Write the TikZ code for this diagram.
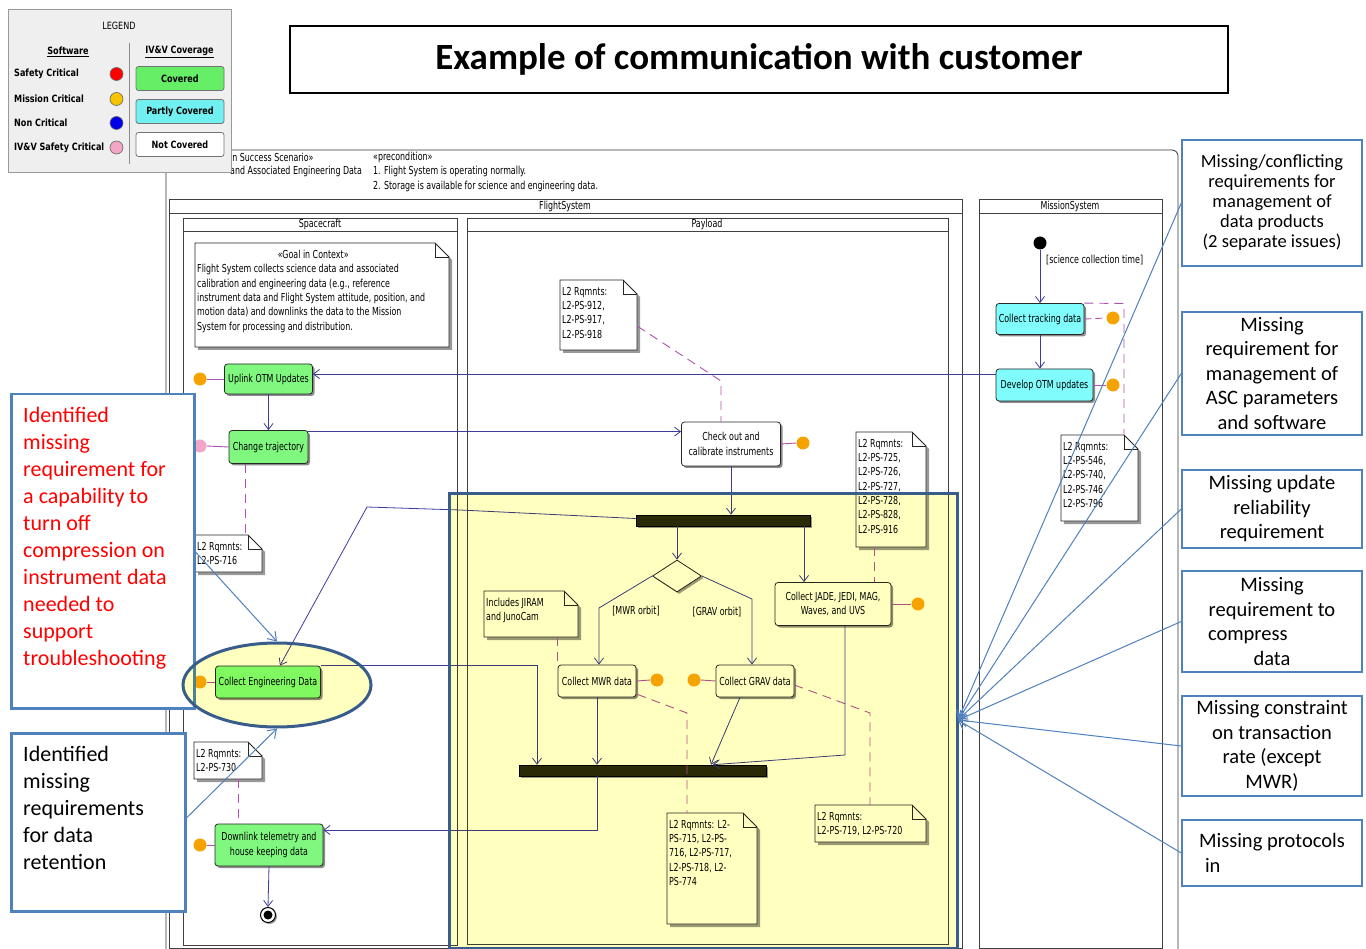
\documentclass[tikz,border=0pt]{standalone}
\usepackage{fontspec}
\setmainfont{Carlito}
\newfontfamily\umlfont{DejaVu Sans Condensed}[FakeStretch=0.8, BoldFont={DejaVu Sans Condensed Bold}]
\newfontfamily\legendfont{DejaVu Sans Condensed}[FakeStretch=0.9, BoldFont={DejaVu Sans Condensed Bold}]
\usetikzlibrary{arrows.meta,shadows,shapes.geometric,calc}

\definecolor{actgreen}{HTML}{80F880}
\definecolor{actcyan}{HTML}{80FCFC}
\definecolor{flowblue}{HTML}{3C3C9C}
\definecolor{tracemag}{HTML}{B050B0}
\definecolor{dotorange}{HTML}{F5A300}
\definecolor{dotpink}{HTML}{F4A6C8}
\definecolor{dotgold}{HTML}{F8C400}
\definecolor{dotblue}{HTML}{0000E8}
\definecolor{calloutblue}{HTML}{4F81BD}
\definecolor{focusblue}{HTML}{385D8A}
\definecolor{focusyellow}{HTML}{FFFFC0}
\definecolor{barfill}{HTML}{2A2A08}
\definecolor{legendgray}{HTML}{EFEFEF}
\definecolor{covgreen}{HTML}{66EE66}
\definecolor{covcyan}{HTML}{70F0F0}

% requirement note with a folded top-right corner:
% name, left x, top y, width, height, text
\newcommand{\reqnote}[6]{%
  \fill[black!40] ({#2+3},{#3+3}) -- ++({#4-14},0) -- ++(14,14) -- ++(0,{#5-14}) -- ++({-#4},0) -- cycle;
  \filldraw[notebody] (#2,#3) -- ++({#4-14},0) -- ++(14,14) -- ++(0,{#5-14}) -- ++({-#4},0) -- cycle;
  \draw[notebody, fill=none] ({#2+#4-14},#3) -- ++(0,14) -- ++(14,0);
  \node[inner sep=0, minimum width=#4, minimum height=#5, anchor=north west] (#1) at (#2,#3) {};
  \node[uml, align=left, anchor=north west] (#1-text) at ({#2+2},{#3+7}) {#6};
}

\begin{document}
\begin{tikzpicture}[x=1pt, y=-1pt,
  uml/.style={font=\umlfont\fontsize{11}{14.3}\selectfont, inner sep=0},
  frame/.style={draw=black!80, line width=0.8pt},
  lane/.style={draw=black!75, line width=0.8pt},
  action/.style={uml, draw=black!85, line width=0.8pt, rounded corners=3pt, align=center, inner sep=1pt,
    drop shadow={shadow xshift=2pt, shadow yshift=-2pt, fill=black!45, opacity=1}},
  green action/.style={action, fill=actgreen},
  cyan action/.style={action, fill=actcyan},
  white action/.style={action, fill=white},
  syncbar/.style={draw=black, fill=barfill, line width=0.6pt, inner sep=0,
    drop shadow={shadow xshift=2pt, shadow yshift=-2pt, fill=black!40, opacity=1}},
  notebody/.style={fill=white, draw=black!85, line width=0.8pt},
  odot/.style={circle, fill=dotorange, inner sep=0, minimum size=13pt},
  pdot/.style={odot, fill=dotpink},
  flow/.style={draw=flowblue, line width=0.8pt, -{Straight Barb[length=6pt, width=9pt]}},
  trace/.style={draw=tracemag, line width=0.9pt, dash pattern=on 9pt off 6pt},
  tie/.style={draw=tracemag, line width=0.9pt},
  callout/.style={draw=calloutblue, line width=1.5pt, fill=white, align=center, inner sep=0,
    minimum width=180pt, font=\fontsize{20.5}{24.5}\selectfont},
  sidebox/.style={draw=calloutblue, line width=2.5pt, fill=white, anchor=north west, inner sep=0},
  pointer/.style={draw=calloutblue, line width=1pt, -{Straight Barb[length=8pt, width=11pt]}},
  legtext/.style={font=\legendfont\bfseries\fontsize{10}{12}\selectfont, inner sep=0},
  legdot/.style={circle, draw=black!60, line width=0.6pt, inner sep=0, minimum size=13pt},
  legbox/.style={legtext, draw=black!55, line width=0.8pt, rounded corners=2.5pt,
    minimum width=88pt, minimum height=24pt},
]
\useasboundingbox (0,0) rectangle (1366,949);
\fill[white] (0,0) rectangle (1366,949);

% ---------- activity frame and swimlanes ----------
\draw[frame, rounded corners=6pt] (166,965) -- (166,150) -- (1178,150) -- (1178,965);
\node[uml, anchor=west] (scenario) at (230,157) {in Success Scenario»};
\node[uml, anchor=west] (scenname) at (230,171.5) {and Associated Engineering Data};
\node[uml, anchor=west] (precond) at (373,157) {«precondition»};
\node[uml, anchor=west] (pre1) at (373,171.5) {1. Flight System is operating normally.};
\node[uml, anchor=west] (pre2) at (373,186) {2. Storage is available for science and engineering data.};

\draw[lane] (169,199) rectangle (962,948);
\draw[lane] (169,213) -- (962,213);
\node[uml] (flightlabel) at (565,206.5) {FlightSystem};
\draw[lane] (183,218) rectangle (457,945);
\draw[lane] (183,231) -- (457,231);
\node[uml] (spacelabel) at (320,224.5) {Spacecraft};
\draw[lane] (467,218) rectangle (948,944);
\draw[lane] (467,231) -- (948,231);
\node[uml] (payloadlabel) at (707,224.5) {Payload};
\draw[lane] (979,199) rectangle (1162,948);
\draw[lane] (979,213) -- (1162,213);
\node[uml] (missionlabel) at (1070,206.5) {MissionSystem};

% ---------- Spacecraft lane ----------
\reqnote{goal}{195}{243}{254}{104}{\makebox[232pt]{«Goal in Context»}\\
Flight System collects science data and associated\\
calibration and engineering data (e.g., reference\\
instrument data and Flight System attitude, position, and\\
motion data) and downlinks the data to the Mission\\
System for processing and distribution.}

\node[green action, minimum width=88pt, minimum height=30pt] (uplink) at (268.5,379) {Uplink OTM Updates};
\node[green action, minimum width=79pt, minimum height=33pt] (traj) at (268.5,447) {Change trajectory};
\node[green action, minimum width=105pt, minimum height=32pt] (engdata) at (268,682) {Collect Engineering Data};
\node[green action, minimum width=108pt, minimum height=42pt] (downlink) at (269,845) {Downlink telemetry and\\house keeping data};
\node[circle, draw=black, line width=1pt, fill=white, minimum size=15pt, inner sep=0,
  drop shadow={shadow xshift=1.5pt, shadow yshift=-1.5pt, fill=black!40, opacity=1}] (final) at (268,915) {};
\node[circle, fill=black, minimum size=9pt, inner sep=0] (finaldot) at (final.center) {};

\node[odot] (duplink) at (200,379) {};
\node[pdot] (dtraj) at (200,446) {};
\node[odot] (deng) at (200,682) {};
\node[odot] (ddown) at (200,845) {};
\draw[tie] (duplink.east) -- (uplink.west);
\draw[tie] (dtraj.east) -- (traj.west);
\draw[tie] (deng.east) -- (engdata.west);
\draw[tie] (ddown.east) -- (downlink.west);

\reqnote{n716}{195}{535}{67}{37}{L2 Rqmnts:\\L2-PS-716}
\reqnote{n730}{194}{742}{68}{37}{L2 Rqmnts:\\L2-PS-730}
\draw[trace] (traj.south -| 245,0) -- (n716.north -| 245,0);
\draw[trace] (n730.south -| 238,0) -- (downlink.north -| 238,0);

\draw[flow] (uplink.south) -- (traj.north);
\draw[flow] (downlink.south) -- (final.north);

% ---------- Payload lane ----------
\reqnote{n912}{560}{280}{77}{70}{L2 Rqmnts:\\L2-PS-912,\\L2-PS-917,\\L2-PS-918}
\node[white action, minimum width=99pt, minimum height=44pt] (checkout) at (731,444) {Check out and\\calibrate instruments};
\node[odot] (dcheck) at (803,443) {};
\draw[tie] (checkout.east) -- (dcheck.west);
\draw[trace] ($(n912.east)+(0,11)$) -- (721,381) -- (checkout.north -| 721,0);

\node[syncbar, minimum width=174pt, minimum height=11pt] (fork) at (723,520.5) {};
\node[diamond, draw=black!85, line width=0.8pt, fill=white, inner sep=0, minimum width=49pt, minimum height=32pt,
  drop shadow={shadow xshift=2pt, shadow yshift=-2pt, fill=black!40, opacity=1}] (choice) at (677,576) {};
\node[white action, minimum width=78pt, minimum height=32pt] (mwr) at (597,681) {Collect MWR data};
\node[white action, minimum width=78pt, minimum height=32pt] (grav) at (755,681) {Collect GRAV data};
\node[white action, minimum width=116pt, minimum height=43pt] (jade) at (833,604) {Collect JADE, JEDI, MAG,\\Waves, and UVS};
\node[syncbar, minimum width=247pt, minimum height=11pt] (join) at (642.5,770.5) {};

\node[odot] (dmwr) at (657,680) {};
\node[odot] (dgrav) at (694,680) {};
\node[odot] (djade) at (918,604) {};
\draw[tie] (mwr.east) -- (dmwr.west);
\draw[tie] (dgrav.east) -- (grav.west);
\draw[tie] (jade.east) -- (djade.west);

\node[uml] (mwrguard) at (636,611) {[MWR orbit]};
\node[uml] (gravguard) at (717,612) {[GRAV orbit]};

\reqnote{jiram}{484}{591}{94}{46}{Includes JIRAM\\and JunoCam}
\reqnote{n725}{856}{432}{70}{115}{L2 Rqmnts:\\L2-PS-725,\\L2-PS-726,\\L2-PS-727,\\L2-PS-728,\\L2-PS-828,\\L2-PS-916}
\reqnote{n715}{667}{813}{90}{111}{L2 Rqmnts: L2-\\PS-715, L2-PS-\\716, L2-PS-717,\\L2-PS-718, L2-\\PS-774}
\reqnote{n719}{815}{805}{111}{37}{L2 Rqmnts:\\L2-PS-719, L2-PS-720}
\draw[trace] (jiram.south -| 557,0) -- (mwr.north -| 557,0);
\draw[trace] (n725.south -| 874,0) -- (jade.north -| 874,0);
\draw[trace] ($(mwr.south east)+(1,-3)$) -- (687,713) -- (n715.north -| 687,0);
\draw[trace] ($(grav.east)+(0,4)$) -- (870,713) -- (n719.north -| 870,0);

\draw[flow] (checkout.south) -- (checkout.south |- fork.north);
\draw[flow] (fork.south -| choice.north) -- (choice.north);
\draw[flow] (fork.south -| 804,0) -- (jade.north -| 804,0);
\draw[flow] (choice.west) -- (599,608) -- (mwr.north -| 599,0);
\draw[flow] (choice.east) -- (752,599) -- (grav.north -| 752,0);
\draw[flow] (mwr.south) -- (mwr.south |- join.north);
\draw[flow] ($(grav.south)+(-15,0)$) -- (join.north -| 711,0);
\draw[flow] ($(jade.south)+(12,0)$) -- (845,755) -- (join.north -| 713,0);
\draw[flow] (engdata.north east) -| (join.north -| 537,0);
\draw[flow] (join.south -| mwr.south) |- ($(downlink.east)+(0,-15)$);
\draw[flow] ($(fork.west)+(0,-2)$) -- (460,510) -- (367,507) -- ($(engdata.north)+(12,0)$);

% ---------- MissionSystem lane ----------
\node[circle, fill=black, minimum size=13pt, inner sep=0] (start) at (1040,243) {};
\node[uml, anchor=west] (sctime) at (1046,260) {[science collection time]};
\node[cyan action, minimum width=88pt, minimum height=31pt] (tracking) at (1040,319) {Collect tracking data};
\node[cyan action, minimum width=97pt, minimum height=32pt] (develop) at (1044.5,385) {Develop OTM updates};
\node[odot] (dtrack) at (1113,318) {};
\node[odot] (ddev) at (1113,385) {};
\draw[tracemag, line width=0.9pt, dash pattern=on 7pt off 4pt] (tracking.east) -- (dtrack.west);
\draw[tie] (develop.east) -- (ddev.west);
\reqnote{n546}{1061}{435}{77}{86}{L2 Rqmnts:\\L2-PS-546,\\L2-PS-740,\\L2-PS-746,\\L2-PS-796}
\draw[trace] (tracking.north east) -- (1124,303.5) -- (n546.north -| 1124,0);

\draw[flow] (start) -- (tracking.north);
\draw[flow] (tracking.south) -- (tracking.south |- develop.north);
\draw[flow] ($(develop.west)+(0,-11)$) coordinate (otm) -- (otm -| uplink.east);
\draw[flow] ($(traj.north east)+(0,1.5)$) coordinate (trj) -- (trj -| checkout.west);

% ---------- findings on the left ----------
\node[sidebox, text=red] (redbox) at (10,393) {\parbox[t][314pt][t]{183pt}{\leftskip=12pt\fontsize{22}{27}\selectfont
  \vspace*{13pt}Identified\\missing\\requirement for\\a capability to\\turn off\\compression on\\instrument data\\needed to\\support\\troubleshooting}};
\node[sidebox, text=black] (blackbox) at (10,732) {\parbox[t][178pt][t]{174pt}{\leftskip=12pt\fontsize{22}{27}\selectfont
  \vspace*{13pt}Identified\\missing\\requirements\\for data\\retention}};

% ---------- highlighted region ----------
\begin{scope}[blend mode=multiply]
  \fill[focusyellow] (448,492) rectangle (956,947);
  \fill[focusyellow] (277,685) ellipse [x radius=94, y radius=42];
\end{scope}
\node[draw=focusblue, line width=3pt, minimum width=508pt, minimum height=455pt, anchor=north west, inner sep=0] (focusarea) at (448,492) {};
\node[ellipse, draw=focusblue, line width=3pt, minimum width=188pt, minimum height=84pt, inner sep=0] (focus) at (277,685) {};

\draw[pointer] (redbox.east |- 0,552) -- (focus.north);
\draw[pointer] (blackbox.east |- 0,818) -- (focus.south);

% ---------- legend ----------
\node[draw=black!40, fill=legendgray, line width=1pt, anchor=north west, minimum width=223pt, minimum height=163pt, inner sep=0] (legend) at (8,9.5) {};
\node[legtext, font=\legendfont\fontsize{10}{12}\selectfont] (legtitle) at (119,26) {LEGEND};
\node[legtext] (legsw) at (68,52) {\underline{Software}};
\node[legtext] (legcov) at (179.5,52) {\underline{IV\&V Coverage}};
\draw[black!45, line width=1pt] (129,43) -- (129,164);
\node[legtext, anchor=west] (lsafe) at (14,74) {Safety Critical};
\node[legtext, anchor=west] (lmiss) at (14,99) {Mission Critical};
\node[legtext, anchor=west] (lnon) at (14,123) {Non Critical};
\node[legtext, anchor=west] (livv) at (14,147.5) {IV\&V Safety Critical};
\node[legdot, fill=red] (dsafe) at (116.5,74) {};
\node[legdot, fill=dotgold] (dmiss) at (116.5,99) {};
\node[legdot, fill=dotblue] (dnon) at (116.5,123) {};
\node[legdot, fill=dotpink] (divv) at (116.5,147.5) {};
\node[legbox, fill=covgreen] (lcovered) at (180,78.5) {Covered};
\node[legbox, fill=covcyan] (lpartly) at (180,111.5) {Partly Covered};
\node[legbox, fill=white] (lnot) at (180,144.5) {Not Covered};

% ---------- title ----------
\node[draw=black, line width=1.6pt, minimum width=938pt, minimum height=67pt, inner sep=0,
  font=\bfseries\fontsize{37}{40}\selectfont] (title) at (759,59.5) {Example of communication with customer};

% ---------- findings on the right ----------
\node[callout, minimum height=126pt, font=\fontsize{18.5}{20}\selectfont] (c1) at (1272,203)
  {Missing/conflicting\\requirements for\\management of\\data products\\(2 separate issues)};
\node[callout, minimum height=123pt] (c2) at (1272,373.5)
  {Missing\\requirement for\\management of\\ASC parameters\\and software};
\node[callout, minimum height=78pt] (c3) at (1272,509)
  {Missing update\\reliability\\requirement};
\node[callout, minimum height=101pt] (c4) at (1272,621.5)
  {Missing\\requirement to\\\makebox[160pt][l]{\hspace{16pt}compress}\\data};
\node[callout, minimum height=100pt] (c5) at (1272,746)
  {Missing constraint\\on transaction\\rate (except\\MWR)};
\node[callout, minimum height=66pt, align=left] (c6) at (1272,853)
  {Missing protocols\\\hspace*{6pt}in};

\coordinate (hub) at (958,720);
\foreach \c in {c1,c2,c3,c4,c5,c6} \draw[pointer] (\c.west) -- (hub);
\end{tikzpicture}
\end{document}
